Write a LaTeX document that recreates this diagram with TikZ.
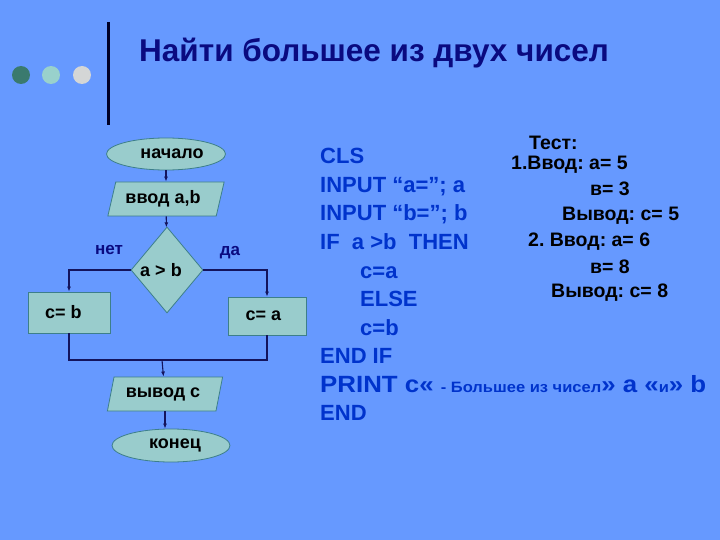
\documentclass[tikz,border=0pt]{standalone}
\usepackage{fontspec}
\setmainfont{Liberation Sans}
\usepackage{tikz}
\usetikzlibrary{arrows.meta}
\usetikzlibrary{shapes.geometric}
\usetikzlibrary{positioning}
\frenchspacing

\definecolor{slidebg}{HTML}{6699FF}
\definecolor{titleblue}{HTML}{0A0A80}
\definecolor{codeblue}{HTML}{0033CC}
\definecolor{shapefill}{HTML}{99CCCC}
\definecolor{shapeline}{HTML}{3D7F8A}
\definecolor{flowline}{HTML}{14145C}
\definecolor{dotdark}{HTML}{3A7A6E}
\definecolor{dotlight}{HTML}{99D1CC}
\definecolor{dotgray}{HTML}{D4D6D6}

\tikzset{
  blockbase/.style={draw=shapeline, fill=shapefill, line width=0.8pt,
    font=\fontsize{18}{20}\selectfont\bfseries, text=black, inner sep=0pt},
  terminal/.style={blockbase, ellipse},
  iobox/.style={blockbase, trapezium, trapezium left angle=69,
    trapezium right angle=111, trapezium stretches=true},
  decision/.style={blockbase, diamond},
  process/.style={blockbase, rectangle},
  flow/.style={draw=flowline, line width=1.1pt},
  flowarrow/.style={flow, -{Latex[length=5pt,width=4pt]}},
  branchlabel/.style={font=\fontsize{17}{19}\selectfont\bfseries, text=titleblue},
  codeline/.style={anchor=base west, font=\fontsize{22}{24}\selectfont\bfseries, text=codeblue, inner sep=0pt},
  testline/.style={anchor=base west, font=\fontsize{19.5}{22}\selectfont\bfseries, text=black, inner sep=0pt}
}

\begin{document}
\begin{tikzpicture}[x=1pt,y=-1pt]
  % background
  \fill[slidebg] (0,0) rectangle (720,540);
  \useasboundingbox (0,0) rectangle (720,540);

  % title bar
  \fill[dotdark]  (21,75) circle (9);
  \fill[dotlight] (51,75) circle (9);
  \fill[dotgray]  (82,75) circle (9);
  \draw[line width=3pt, black!85!blue] (108,22) -- (108,125);
  \node[anchor=west, inner sep=0pt, text=titleblue,
        font=\fontsize{31.5}{34}\selectfont\bfseries] (title) at (139,53)
        {Найти большее из двух чисел};

  % flowchart
  \node[terminal, minimum width=119, minimum height=32] (start) at (166,154) {\hspace*{12pt}начало};
  \node[iobox, minimum width=117, minimum height=34] (inp) at (166,199) {ввод a,b\hspace*{6pt}};
  \node[decision, minimum width=72, minimum height=86] (cond) at (167,270) {a > b\hspace*{12pt}};
  \node[process, minimum width=82, minimum height=41] (cb) at (69,312.5) {c= b\hspace*{11pt}};
  \node[process, minimum width=78, minimum height=38] (ca) at (267,316) {c= a\hspace*{7pt}};
  \node[iobox, minimum width=116, minimum height=34] (outp) at (165,394) {вывод c\hspace*{4pt}};
  \node[terminal, minimum width=118, minimum height=33] (stop) at (171,445.5) {\hspace*{8pt}конец};

  \node[branchlabel] (no) at (109,250) {нет};
  \node[branchlabel] (yes) at (230,253) {да};

  \coordinate (join) at (162,360);

  \draw[flowarrow] (start) -- (inp);
  \draw[flowarrow] (inp) -- (cond);
  \draw[flowarrow] (cond.west) -| (cb.north);
  \draw[flowarrow] (cond.east) -| (ca.north);
  \draw[flow] (cb.south) |- (join) -| (ca.south);
  \draw[flowarrow] (join) -- (outp);
  \draw[flowarrow] (outp.south) -- (outp.south |- stop.north);

  % program text
  \node[codeline] (l1)  at (320,164) {CLS};
  \node[codeline] (l2)  at (320,193) {INPUT “a=”; a};
  \node[codeline] (l3)  at (320,221) {INPUT “b=”; b};
  \node[codeline] (l4)  at (320,249) {IF\ \ a >b\ \ THEN};
  \node[codeline] (l5)  at (360,278) {c=a};
  \node[codeline] (l6)  at (360,306) {ELSE};
  \node[codeline] (l7)  at (360,335) {c=b};
  \node[codeline] (l8)  at (320,363) {END IF};
  \node[codeline] (l9)  at (320,392)
    {\scalebox{1.1}[1]{\fontsize{23.5}{26}\selectfont PRINT c« {\fontsize{15}{17}\selectfont - Большее из чисел}» a «{\fontsize{15}{17}\selectfont и}» b}};
  \node[codeline] (l10) at (320,420) {END};

  % test data
  \node[testline] (t1) at (529,150) {Тест:};
  \node[testline] (t2) at (511,170) {1.Ввод: а= 5};
  \node[testline] (t3) at (590,196) {в= 3};
  \node[testline] (t4) at (562,221) {Вывод: с= 5};
  \node[testline] (t5) at (528,247) {2. Ввод: а= 6};
  \node[testline] (t6) at (590,273) {в= 8};
  \node[testline] (t7) at (551,297) {Вывод: с= 8};
\end{tikzpicture}
\end{document}
